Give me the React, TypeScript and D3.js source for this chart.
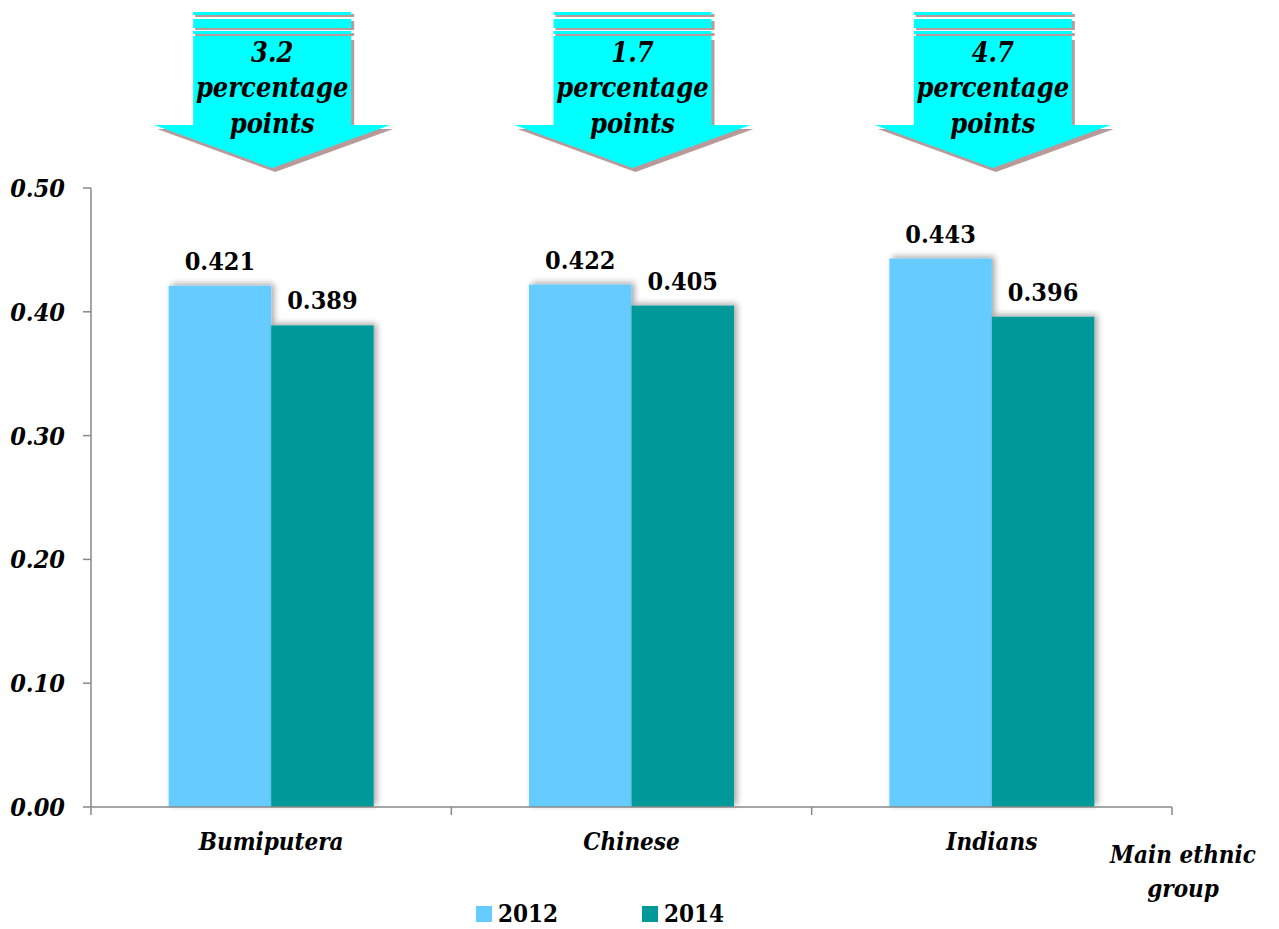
import React from "react";
import * as d3 from "d3";

const categories = ["Bumiputera", "Chinese", "Indians"];
const years = ["2012", "2014"];
const values2012 = [0.421, 0.422, 0.443];
const values2014 = [0.389, 0.405, 0.396];
const decreaseLabels = ["3.2", "1.7", "4.7"];
const yTicks = [0, 0.1, 0.2, 0.3, 0.4, 0.5];
const colors = ["#66CCFF", "#009999"];

const W = 1279;
const H = 929;
const FONT = "'DejaVu Serif Condensed', 'DejaVu Serif', serif";

export default function App() {
  const x0 = d3.scaleBand<string>().domain(categories).range([91, 1172]).padding(0);
  const bw = x0.bandwidth();
  const x1 = d3.scaleBand<string>().domain(years).range([bw / 2 - 102.5, bw / 2 + 102.5]).padding(0);
  const y = d3.scaleLinear().domain([0, 0.5]).range([807, 188]);
  const series = [values2012, values2014];

  const arrowPath = (cx: number) => {
    const sw = 79, hw = 118, top = 36, headY = 125, tip = 168;
    return `M${cx - sw},${top} L${cx + sw},${top} L${cx + sw},${headY} L${cx + hw},${headY} L${cx},${tip} L${cx - hw},${headY} L${cx - sw},${headY} Z`;
  };
  const stripes = [
    [12, 3],
    [19, 9],
    [31, 3],
  ];

  return (
    <svg width={W} height={H} style={{ position: "absolute", left: 0, top: 0, background: "#fff" }}>
      <defs>
        <filter id="barShadow" x="-20%" y="-20%" width="140%" height="140%">
          <feGaussianBlur in="SourceAlpha" stdDeviation="3" />
          <feOffset dx="3" dy="-2" result="b" />
          <feComponentTransfer>
            <feFuncA type="linear" slope="0.35" />
          </feComponentTransfer>
          <feMerge>
            <feMergeNode />
            <feMergeNode in="SourceGraphic" />
          </feMerge>
        </filter>
      </defs>

      {/* arrows */}
      {categories.map((c, i) => {
        const cx = (x0(c) ?? 0) + bw / 2 + 1;
        return (
          <g key={"arrow" + c}>
            {stripes.map(([sy, sh], k) => (
              <rect key={"s" + k} x={cx - 79 + 2} y={sy + 2} width={158 + 1} height={sh} fill="#B89A9A" />
            ))}
            <path d={arrowPath(cx)} transform="translate(3,4)" fill="#B89A9A" />
            {stripes.map(([sy, sh], k) => (
              <rect key={"c" + k} x={cx - 79} y={sy} width={158} height={sh} fill="#00FFFF" />
            ))}
            <path d={arrowPath(cx)} fill="#00FFFF" />
            <g fontFamily={FONT} fontWeight="bold" fontStyle="italic" fontSize={27} textAnchor="middle" fill="#000">
              <text x={cx} y={62}>{decreaseLabels[i]}</text>
              <text x={cx} y={97}>percentage</text>
              <text x={cx} y={133}>points</text>
            </g>
          </g>
        );
      })}

      {/* bars */}
      {categories.map((c, i) => (
        <g key={"bars" + c} transform={`translate(${x0(c)},0)`}>
          {years.map((yr, j) => (
            <rect
              key={yr}
              x={x1(yr)}
              y={y(series[j][i])}
              width={x1.bandwidth()}
              height={y(0) - y(series[j][i])}
              fill={colors[j]}
              filter="url(#barShadow)"
            />
          ))}
        </g>
      ))}

      {/* value labels */}
      {categories.map((c, i) => (
        <g key={"lbl" + c} transform={`translate(${x0(c)},0)`}>
          {years.map((yr, j) => (
            <text
              key={yr}
              x={(x1(yr) ?? 0) + x1.bandwidth() / 2}
              y={y(series[j][i]) - 16}
              textAnchor="middle"
              fontFamily={FONT}
              fontWeight="bold"
              fontSize={25}
              fill="#000"
            >
              {series[j][i].toFixed(3)}
            </text>
          ))}
        </g>
      ))}

      {/* y axis */}
      <line x1={91} x2={91} y1={y(0.5)} y2={y(0)} stroke="#888" strokeWidth={1.5} />
      {yTicks.map((t) => (
        <g key={"yt" + t}>
          <line x1={83} x2={91} y1={y(t)} y2={y(t)} stroke="#888" strokeWidth={1.5} />
          <text
            x={65}
            y={y(t) + 9}
            textAnchor="end"
            fontFamily={FONT}
            fontWeight="bold"
            fontStyle="italic"
            fontSize={25}
            fill="#000"
          >
            {t.toFixed(2)}
          </text>
        </g>
      ))}

      {/* x axis */}
      <line x1={91} x2={1172} y1={y(0)} y2={y(0)} stroke="#888" strokeWidth={1.5} />
      {[...categories.map((c) => x0(c) ?? 0), 1172].map((tx, k) => (
        <line key={"xt" + k} x1={tx} x2={tx} y1={y(0)} y2={y(0) + 8} stroke="#888" strokeWidth={1.5} />
      ))}
      {categories.map((c) => (
        <text
          key={"xl" + c}
          x={(x0(c) ?? 0) + bw / 2}
          y={850}
          textAnchor="middle"
          fontFamily={FONT}
          fontWeight="bold"
          fontStyle="italic"
          fontSize={24}
          fill="#000"
        >
          {c}
        </text>
      ))}
      <g fontFamily={FONT} fontWeight="bold" fontStyle="italic" fontSize={24} textAnchor="middle" fill="#000">
        <text x={1183} y={863}>Main ethnic</text>
        <text x={1183} y={897}>group</text>
      </g>

      {/* legend */}
      {years.map((yr, j) => {
        const lx = j === 0 ? 476 : 642;
        return (
          <g key={"lg" + yr}>
            <rect x={lx} y={906} width={16} height={16} fill={colors[j]} />
            <text x={lx + 22} y={922} fontFamily={FONT} fontWeight="bold" fontSize={24} fill="#000">
              {yr}
            </text>
          </g>
        );
      })}
    </svg>
  );
}
